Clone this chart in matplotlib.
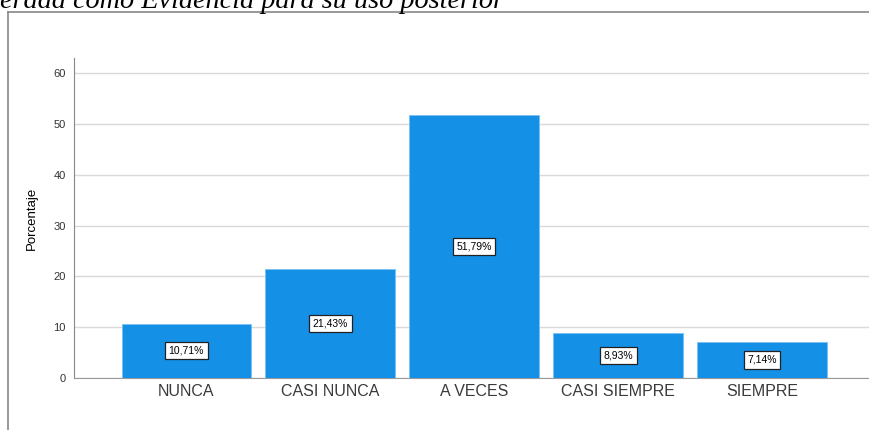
import matplotlib
matplotlib.use("Agg")
import matplotlib.pyplot as plt
from matplotlib.lines import Line2D

categories = ["NUNCA", "CASI NUNCA", "A VECES", "CASI SIEMPRE", "SIEMPRE"]
values = [10.71, 21.43, 51.79, 8.93, 7.14]
labels = ["10,71%", "21,43%", "51,79%", "8,93%", "7,14%"]
yticks = [0, 10, 20, 30, 40, 50, 60]

fig = plt.figure(figsize=(8.7, 4.3), dpi=100)
ax = fig.add_axes([74/870, 1-378/430, 1-74/870, (378-58)/430])

x = list(range(len(categories)))
ax.bar(x, values, width=0.9, color="#1490E6", edgecolor="#7cc0f0", linewidth=0.6, zorder=3)
for xi, v, lab in zip(x, values, labels):
    ax.text(xi, v/2, lab, ha="center", va="center", fontsize=7.5, family="Liberation Sans",
            bbox=dict(boxstyle="square,pad=0.35", fc="white", ec="#222222", lw=0.9), zorder=4)

ax.set_xlim(-0.78, 4.75)
ax.set_ylim(0, 63)
ax.set_yticks(yticks)
ax.yaxis.grid(True, color="#d9d9d9", lw=1, zorder=0)
ax.set_axisbelow(True)
ax.set_xticks(x)
ax.set_xticklabels(categories, fontsize=11.5, color="#3a3a3a", family="Liberation Sans")
ax.tick_params(axis="y", length=0, labelsize=8, labelcolor="#333333", pad=6)
ax.tick_params(axis="x", length=0, pad=4)
for lab in ax.get_yticklabels():
    lab.set_family("Liberation Sans")
ax.set_ylabel("Porcentaje", fontsize=9.5, family="Liberation Sans", labelpad=11)
for s in ["top", "right"]:
    ax.spines[s].set_visible(False)
ax.spines["left"].set_color("#888888")
ax.spines["bottom"].set_color("#999999")

fig.add_artist(Line2D([8/870, 1], [1-12/430, 1-12/430], color="#888888", lw=1.2))
fig.add_artist(Line2D([8/870, 8/870], [0, 1-12/430], color="#888888", lw=1.2))
fig.text(0, 1-8/430, "erada como Evidencia para su uso posterior", fontsize=20.3,
         family="Liberation Serif", style="italic", ha="left", va="baseline")

fig.savefig("out.png", dpi=100)
